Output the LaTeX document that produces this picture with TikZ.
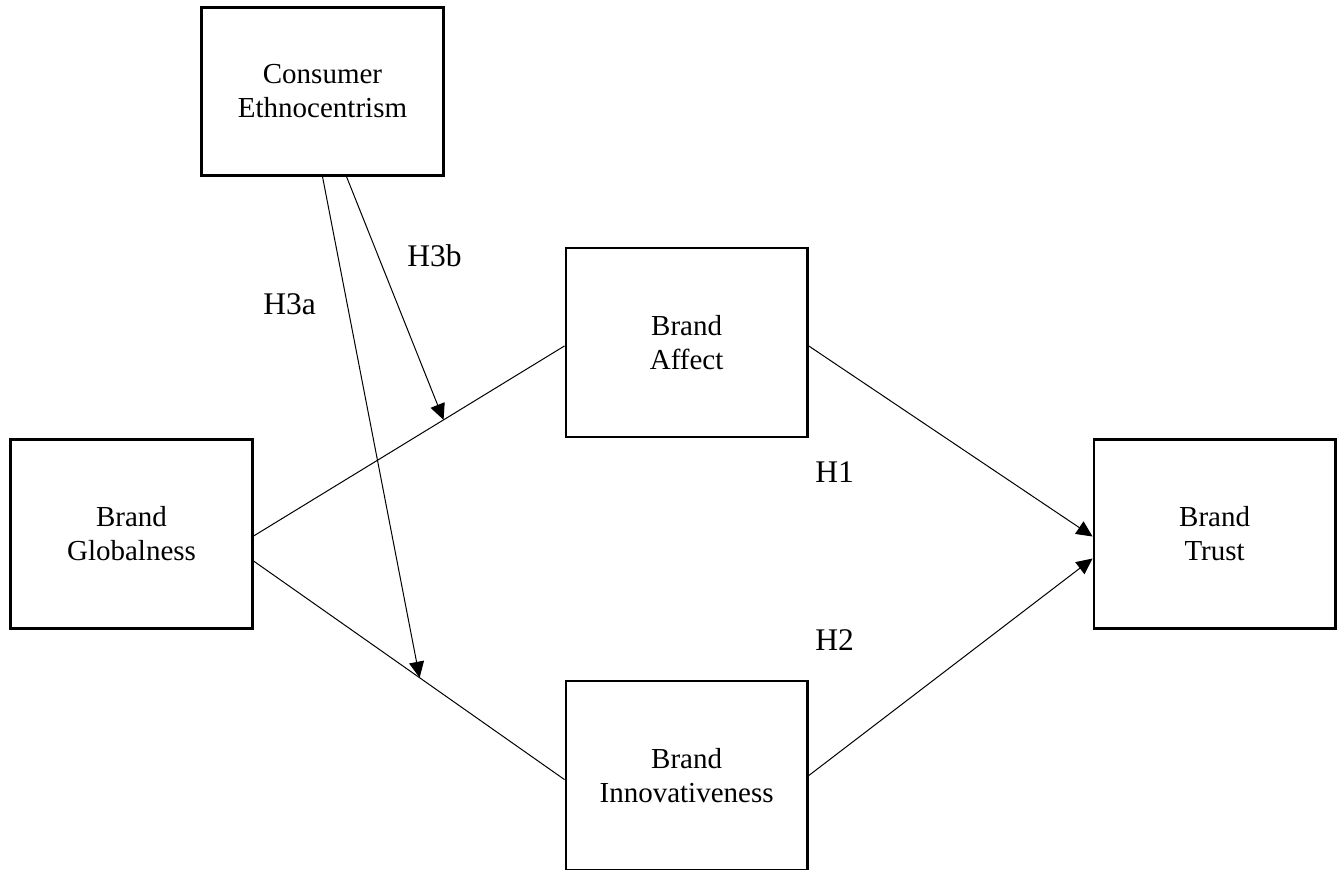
\documentclass[tikz,border=0pt]{standalone}
\usepackage{fontspec}
\setmainfont{Liberation Serif}
\usepackage{tikz}
\usetikzlibrary{positioning}
\usetikzlibrary{arrows.meta}

\begin{document}
\begin{tikzpicture}[x=0.5pt, y=-0.5pt, >={Triangle[length=8pt, width=7.5pt]},
  construct/.style={draw, line width=1.3pt, minimum width=120.75pt, minimum height=94.5pt, align=center, font=\fontsize{14.5}{17}\selectfont},
  hyp/.style={anchor=base west, inner sep=0pt, font=\fontsize{15.75}{18}\selectfont},
  link/.style={line width=0.5pt}]
\useasboundingbox (0,0) rectangle (1343,869);

\node (glob) [construct] at (131.5,534) {Brand\\Globalness};

\node (affect) [construct, above right=0pt and 155.5pt of glob] {Brand\\Affect};

\node (innov) [construct, below right=25pt and 155.5pt of glob] {Brand\\Innovativeness};

\node (trust) [construct, right=419.5pt of glob] {Brand\\Trust};

\node (ce) [construct, minimum height=84pt, above left=35pt and 60pt of affect] {Consumer\\Ethnocentrism};

\draw [link] ([yshift=-1pt]glob.east) -- ([yshift=-1.75pt]affect.west) coordinate [pos=0.611] (modb);
\draw [link] ([yshift=-13.5pt]glob.east) -- ([yshift=-2pt]innov.west) coordinate [pos=0.534] (moda);
\draw [link, ->] ([yshift=-1.75pt]affect.east) -- ([yshift=-1.25pt]trust.west);
\draw [link, ->] (innov.east) -- ([yshift=-12.25pt]trust.west);
\draw [link, ->] (ce.south) -- (moda);
\draw [link, ->] ([xshift=12pt]ce.south) -- (modb);

\node (h3b) [hyp] at (407,266) {H3b};
\node (h3a) [hyp] at (263,314) {H3a};
\node (h1) [hyp] at (815,482) {H1};
\node (h2) [hyp] at (815,650) {H2};

\end{tikzpicture}
\end{document}
